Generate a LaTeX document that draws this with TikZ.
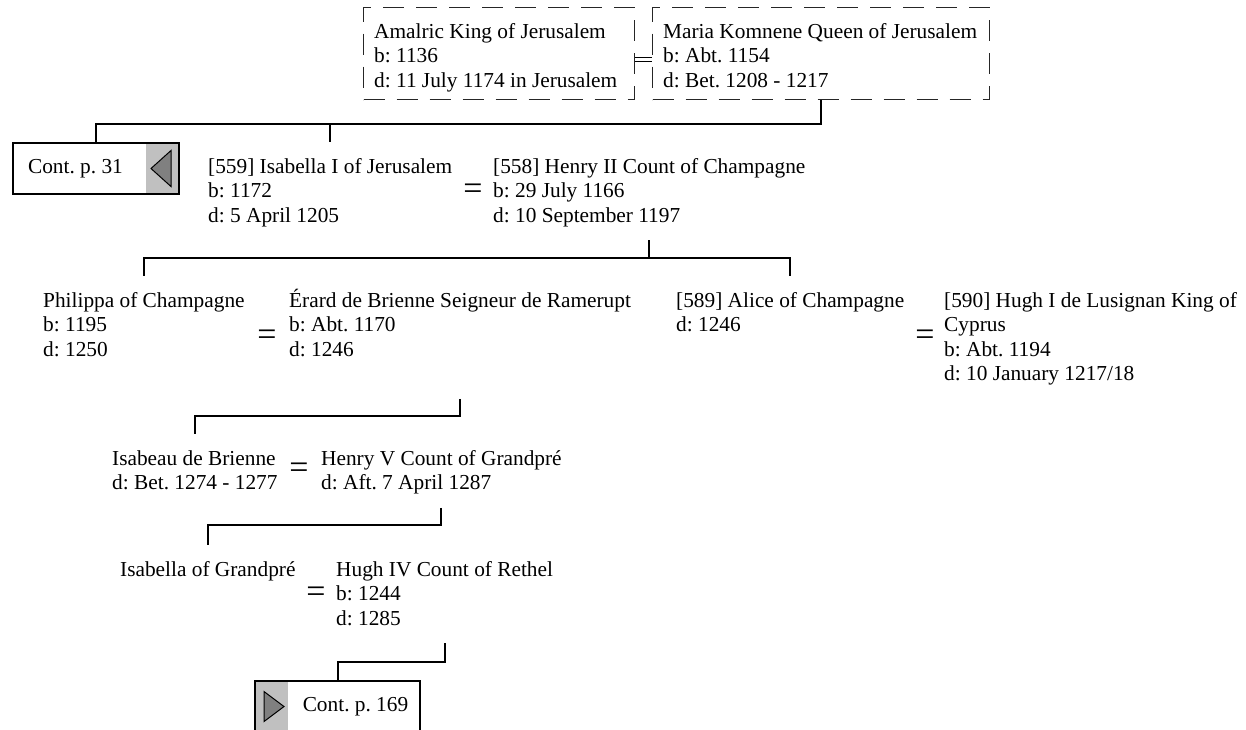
\documentclass[tikz,border=0pt]{standalone}
\usepackage{fontspec}
\setmainfont{Liberation Serif}
\frenchspacing
\usetikzlibrary{positioning}
\definecolor{contgray}{HTML}{C0C0C0}
\definecolor{tipgray}{HTML}{808080}
\newcommand\pers[1]{\rule{0pt}{20pt}#1\rule[-7pt]{0pt}{7pt}}

\begin{document}
\begin{tikzpicture}[x=1pt, y=-1pt,
    every node/.style={font=\fontsize{21.33pt}{24.5pt}\selectfont},
    psn/.style={anchor=north west, inner xsep=0pt, inner ysep=11pt, align=left},
    dbox/.style={draw=black!85, line width=1pt, dash pattern=on 21pt off 12pt,
        minimum width=#1, minimum height=92pt, anchor=north west, inner sep=0pt},
    wed/.style={font=\fontsize{34pt}{34pt}\selectfont, inner sep=0pt},
    tree/.style={line width=2pt},
    cont/.style={draw, line width=2pt, minimum width=166pt, minimum height=51pt,
        anchor=north west, inner sep=0pt},
    contback/.style={cont, path picture={
        \fill[contgray] ([xshift=-33pt]path picture bounding box.north east) rectangle (path picture bounding box.south east);
        \draw[fill=tipgray, line width=1pt] ([xshift=-8pt,yshift=18pt]path picture bounding box.east)
            -- ([xshift=-28pt]path picture bounding box.east)
            -- ([xshift=-8pt,yshift=-18pt]path picture bounding box.east) -- cycle;}},
    contfwd/.style={cont, path picture={
        \fill[contgray] (path picture bounding box.north west) rectangle ([xshift=33pt]path picture bounding box.south west);
        \draw[fill=tipgray, line width=1pt] ([xshift=9pt,yshift=15pt]path picture bounding box.west)
            -- ([xshift=29pt]path picture bounding box.west)
            -- ([xshift=9pt,yshift=-15pt]path picture bounding box.west) -- cycle;}}]
    \useasboundingbox (0,0) rectangle (1246,729);

    % Parents
    \node[dbox=271pt] (amalbox) at (363,7) {};
    \node[dbox=337pt] (mariabox) at (652,7) {};
    \node[psn] (amal) at (374,7) {\pers{Amalric King of Jerusalem\\b: 1136\\d: 11 July 1174 in Jerusalem}};
    \node[psn] (maria) at (663,7) {\pers{Maria Komnene Queen of Jerusalem\\b: Abt. 1154\\d: Bet. 1208 - 1217}};
    \draw[double, double distance=2.6pt, line width=0.8pt] ([yshift=-6pt]amalbox.east) -- ([yshift=-6pt]mariabox.west);

    % Isabella and Henry II
    \node[contback] (cont31) at (12,142) {Cont. p. 31\kern41pt};
    \node[psn] (isab) at (208,142) {\pers{[559] Isabella I of Jerusalem\\b: 1172\\d: 5 April 1205}};
    \node[wed] (m2) at (473,191.5) {=};
    \node[psn] (henry2) at (493,142) {\pers{[558] Henry II Count of Champagne\\b: 29 July 1166\\d: 10 September 1197}};
    \draw[tree] (mariabox.south) -- ++(0,24) coordinate (fam1) -| (cont31.north);
    \draw[tree] (fam1) -| (isab.north);

    % Philippa, Alice and their husbands
    \node[psn] (philippa) at (43,276) {\pers{Philippa of Champagne\\b: 1195\\d: 1250}};
    \node[wed] (m3a) at (267,338) {=};
    \node[psn] (erard) at (289,276) {\pers{Érard de Brienne Seigneur de Ramerupt\\b: Abt. 1170\\d: 1246}};
    \node[psn] (alice) at (676,276) {\pers{[589] Alice of Champagne\\d: 1246}};
    \node[wed] (m3b) at (925,338) {=};
    \node[psn] (hugh1) at (944,276) {\pers{[590] Hugh I de Lusignan King of\\Cyprus\\b: Abt. 1194\\d: 10 January 1217/18}};
    \draw[tree] (henry2.south) -- ++(0,18) coordinate (fam2) -| (philippa.north);
    \draw[tree] (fam2) -| (alice.north);

    % Isabeau and Henry V
    \node[psn] (isabeau) at (112,434) {\pers{Isabeau de Brienne\\d: Bet. 1274 - 1277}};
    \node[wed] (m4) at (299,471) {=};
    \node[psn] (henry5) at (321,434) {\pers{Henry V Count of Grandpré\\d: Aft. 7 April 1287}};
    \draw[tree] (erard.south |- hugh1.south) -- ++(0,17.5) coordinate (fam3) -| (isabeau.north);

    % Isabella and Hugh IV
    \node[psn] (isabg) at (120,545) {\pers{Isabella of Grandpré}};
    \node[wed] (m5) at (316,595) {=};
    \node[psn] (hugh4) at (336,545) {\pers{Hugh IV Count of Rethel\\b: 1244\\d: 1285}};
    \draw[tree] (henry5.south) -- ++(0,17.5) coordinate (fam4) -| (isabg.north);

    % Continued
    \node[contfwd, minimum width=165pt] (cont169) at (254,680) {\kern36pt Cont. p. 169};
    \draw[tree] (hugh4.south) -- ++(0,19) coordinate (fam5) -| (cont169.north);
\end{tikzpicture}
\end{document}
